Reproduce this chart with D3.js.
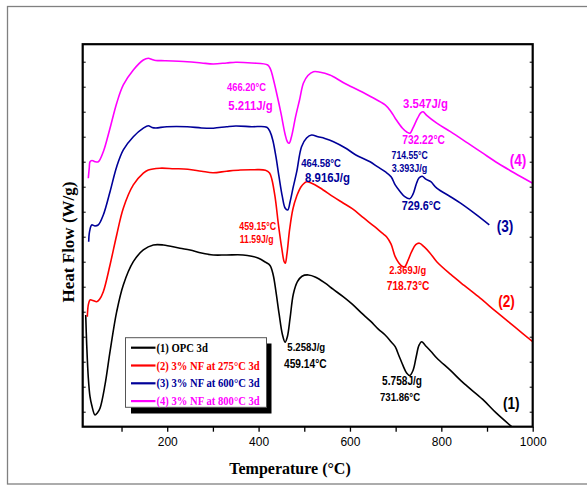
<!DOCTYPE html>
<html>
<head>
<meta charset="utf-8">
<script src="https://cdn.jsdelivr.net/npm/d3@7"></script>
<style>
  body { margin: 0; background: #fff; }
  .tick text { font: 12px Arial, "Liberation Sans", sans-serif; }
  .axis-title { font: bold 16px "Times New Roman", "Liberation Serif", serif; }
  .legend text { font: bold 11.8px "Times New Roman", "Liberation Serif", serif; }
  .ann { font-family: Arial, "Liberation Sans", sans-serif; font-weight: bold; }
</style>
</head>
<body>
<div id="chart"></div>
<script>
// temperature (°C), heat flow (arbitrary units, one unit per y tick)
var opc3d = [[21.6,3.87],[23.8,2.67],[27.3,1.35],[31,0.6],[34.7,0.27],[41.9,-0.13],[47,-0.05],[52.9,0.14],[63.8,1.07],[74.8,2.4],[89.4,4.0],[103.9,5.07],[125.8,6.0],[147.7,6.47],[169.6,6.67],[191.4,6.67],[228,6.54],[250,6.47],[275,6.35],[301,6.27],[330,6.27],[366,6.27],[385,6.22],[400,6.14],[415,5.98],[425,5.85],[432,5.47],[438,4.8],[445,3.9],[452,3.1],[458,2.78],[463,3.0],[469,3.75],[476,4.7],[485,5.2],[495,5.42],[509,5.47],[525,5.38],[545,5.15],[563,4.9],[585,4.6],[605,4.3],[625,3.95],[645,3.62],[662,3.3],[677,3.07],[690,2.8],[699,2.6],[707,2.25],[716,1.85],[724,1.55],[731,1.45],[738,1.65],[745,2.2],[751,2.65],[757,2.8],[765,2.65],[778,2.4],[790,2.15],[820,1.65],[850,1.12],[890,0.5],[920,-0.05],[954,-0.6]];
var nf275 = [[25.1,3.8],[27.3,4.27],[31,4.47],[37.5,4.45],[45.6,4.4],[52,4.5],[60.1,4.8],[74.8,5.87],[89.4,7.07],[103.9,8.14],[125.8,9.07],[147.7,9.54],[158.6,9.67],[184,9.74],[215,9.72],[245,9.7],[275,9.62],[300,9.56],[330,9.62],[360,9.67],[390,9.68],[415,9.66],[424,9.55],[429,9.3],[436,8.6],[444,7.4],[451,6.5],[456,6.0],[458.5,5.94],[462,6.3],[468,7.3],[475,8.1],[483,8.6],[493,9.0],[505,9.2],[515,9.15],[535,8.95],[563,8.6],[585,8.35],[605,8.12],[630,7.75],[654,7.4],[670,7.15],[680,7.0],[690,6.7],[699,6.2],[707,5.95],[714,5.82],[720,5.8],[727,6.05],[735,6.4],[744,6.68],[752,6.74],[762,6.6],[775,6.35],[790,6.0],[820,5.5],[850,5.05],[885,4.54],[920,4.0],[960,3.4],[1000,2.8]];
var nf600 = [[28.1,6.8],[29.9,7.19],[34.7,7.47],[41.9,7.43],[49.2,7.47],[60.1,7.87],[74.8,8.8],[89.4,9.8],[103.9,10.47],[125.8,11.0],[147.7,11.34],[158.6,11.44],[166.7,11.37],[175,11.35],[199,11.4],[244,11.4],[275,11.35],[301,11.34],[330,11.4],[350,11.43],[385,11.4],[418,11.38],[425,11.2],[431,10.87],[438,10.2],[444.7,9.4],[452,8.6],[458,8.15],[463.8,8.07],[469,8.4],[476,9.0],[483.5,9.6],[494,10.6],[505,10.95],[516,11.07],[530,11.0],[545,10.93],[564,10.8],[590,10.55],[613,10.27],[644,10.0],[660,9.8],[677,9.6],[690,9.4],[699,9.07],[710,8.8],[720,8.6],[731,8.52],[738,8.7],[745,9.1],[751,9.35],[758,9.42],[766,9.3],[777,9.2],[790,8.94],[820,8.6],[842,8.34],[875,7.9],[905,7.47]];
var nf800 = [[27.3,9.34],[29.4,9.75],[31,10.0],[35.4,10.05],[41.9,10.0],[49.2,10.0],[60.1,10.4],[74.8,11.34],[89.4,12.34],[103.9,13.07],[125.8,13.67],[147.7,14.07],[158.6,14.14],[166.7,14.09],[175,14.05],[195,14.04],[244,14.0],[275,13.95],[301,13.91],[330,13.95],[350,13.98],[385,13.95],[420,13.87],[426,13.7],[431,13.4],[440,12.7],[449,11.94],[458,11.1],[463,10.8],[467,10.74],[472,11.0],[481,11.8],[490,12.5],[498,13.14],[508,13.45],[520,13.6],[535,13.58],[556,13.47],[564,13.4],[588,13.14],[620,12.85],[646,12.6],[677,12.27],[690,12.0],[699,11.74],[715,11.34],[725,11.18],[731.5,11.14],[738,11.35],[748,11.74],[755,11.95],[760,12.0],[768,11.85],[790,11.54],[820,11.2],[858,10.74],[890,10.35],[924,9.94],[960,9.55],[1000,9.14]];

var seriesNames = ["(1) OPC 3d", "(2) 3% NF at 275°C 3d", "(3) 3% NF at 600°C 3d", "(4) 3% NF at 800°C 3d"];
var seriesColors = ["#000000", "#ff0000", "#000099", "#ff00ff"];
var seriesData = [opc3d, nf275, nf600, nf800];

var xTicks = [100, 200, 300, 400, 500, 600, 700, 800, 900, 1000];
var yTicks = [0,1,2,3,4,5,6,7,8,9,10,11,12,13,14];

// annotations: text, series index, temperature, heat flow, font size
var notes = [
  ["466.20°C", 3, 373.6, 12.97, 11],
  ["5.211J/g", 3, 382.3, 12.25, 13.4],
  ["3.547J/g", 3, 765.4, 12.35, 13.4],
  ["732.22°C", 3, 761, 10.87, 12],
  ["464.58°C", 2, 536.7, 9.94, 11.2],
  ["8.916J/g", 2, 550.9, 9.37, 13.4],
  ["714.55°C", 2, 730.8, 10.24, 10.2],
  ["3.393J/g", 2, 730.4, 9.73, 10.6],
  ["729.6°C", 2, 756.2, 8.27, 12.7],
  ["459.15°C", 1, 398.1, 7.4, 10.4],
  ["11.59J/g", 1, 395.7, 6.9, 10.2],
  ["2.369J/g", 1, 726.5, 5.67, 11],
  ["718.73°C", 1, 727.2, 5.03, 12],
  ["5.258J/g", 0, 504.3, 2.6, 11.3],
  ["459.14°C", 0, 502.3, 1.94, 12],
  ["5.758J/g", 0, 714, 1.24, 11.9],
  ["731.86°C", 0, 709.6, 0.58, 11.3],
  ["(1)", 0, 953, 0.34, 16],
  ["(2)", 1, 942.5, 4.4, 16],
  ["(3)", 2, 939.3, 7.4, 16],
  ["(4)", 3, 968, 10.07, 16]
];

var W = 587, H = 486;
var pLeft = 82.7, pRight = 532.7, pTop = 44.2, pBottom = 426.7;

var svg = d3.select("#chart").append("svg")
  .attr("width", W).attr("height", H);

svg.append("rect").attr("width", W).attr("height", H).attr("fill", "#fff");
// outer figure border
svg.append("rect")
  .attr("x", 7.5).attr("y", 6.5).attr("width", 620).attr("height", 477.5)
  .attr("fill", "none").attr("stroke", "#808080").attr("stroke-width", 1.3);

var x = d3.scaleLinear().domain([15, 1000]).range([pLeft, pRight]);
var y = d3.scaleLinear().domain([-0.6, 14.7]).range([pBottom, pTop]);

svg.append("clipPath").attr("id", "plotclip")
  .append("rect").attr("x", pLeft).attr("y", pTop)
  .attr("width", pRight - pLeft).attr("height", pBottom - pTop);

var line = d3.line()
  .x(function(d){ return x(d[0]); })
  .y(function(d){ return y(d[1]); })
  .curve(d3.curveCatmullRom.alpha(0.5));

svg.append("g").attr("clip-path", "url(#plotclip)")
  .selectAll("path").data(seriesData).enter()
  .append("path")
  .attr("d", line)
  .attr("fill", "none")
  .attr("stroke", function(d, i){ return seriesColors[i]; })
  .attr("stroke-width", 1.6);

// axes
var xAxis = d3.axisBottom(x).tickValues(xTicks).tickSize(5).tickPadding(6)
  .tickFormat(function(d){ return d % 200 === 0 ? d : ""; });
var gx = svg.append("g").attr("transform", "translate(0," + pBottom + ")").call(xAxis);
gx.select(".domain").remove();
gx.selectAll("line").attr("stroke-width", 1.3);

var gl = svg.append("g").attr("transform", "translate(" + pLeft + ",0)")
  .call(d3.axisRight(y).tickValues(yTicks).tickSize(3).tickFormat(""));
gl.select(".domain").remove();
var gr = svg.append("g").attr("transform", "translate(" + pRight + ",0)")
  .call(d3.axisLeft(y).tickValues(yTicks).tickSize(3).tickFormat(""));
gr.select(".domain").remove();

svg.append("rect")
  .attr("x", pLeft).attr("y", pTop)
  .attr("width", pRight - pLeft).attr("height", pBottom - pTop)
  .attr("fill", "none").attr("stroke", "#000").attr("stroke-width", 2.2);

svg.append("text").attr("class", "axis-title")
  .attr("x", 290).attr("y", 474)
  .attr("text-anchor", "middle").text("Temperature (°C)");
svg.append("text").attr("class", "axis-title")
  .attr("transform", "translate(74,242) rotate(-90)")
  .attr("text-anchor", "middle").style("font-size", "17px").text("Heat Flow (W/g)");

// annotations, slightly condensed like the original
svg.append("g").selectAll("text").data(notes).enter()
  .append("text")
  .attr("class", "ann")
  .attr("transform", function(d){ return "translate(" + x(d[2]) + "," + y(d[3]) + ") scale(0.85,1)"; })
  .attr("text-anchor", "middle")
  .attr("dy", "0.36em")
  .style("font-size", function(d){ return d[4] + "px"; })
  .attr("fill", function(d){ return seriesColors[d[1]]; })
  .text(function(d){ return d[0]; });

// legend
var lg = svg.append("g").attr("class", "legend");
lg.append("rect").attr("x", 131).attr("y", 343.5).attr("width", 140.5).attr("height", 70)
  .attr("fill", "#000");
lg.append("rect").attr("x", 125.5).attr("y", 337.7).attr("width", 141).attr("height", 69.6)
  .attr("fill", "#fff").attr("stroke", "#555").attr("stroke-width", 1);
var rows = lg.selectAll("g.row").data(seriesNames).enter().append("g")
  .attr("transform", function(d, i){ return "translate(131," + (347.7 + i * 17.8) + ")"; });
rows.append("line").attr("x1", 0).attr("x2", 24.5).attr("y1", 0).attr("y2", 0)
  .attr("stroke", function(d, i){ return seriesColors[i]; }).attr("stroke-width", 2.2);
rows.append("text").attr("transform", "translate(25.5,0) scale(0.9,1)").attr("dy", "0.35em")
  .attr("fill", function(d, i){ return seriesColors[i]; })
  .text(function(d){ return d; });
</script>
</body>
</html>
